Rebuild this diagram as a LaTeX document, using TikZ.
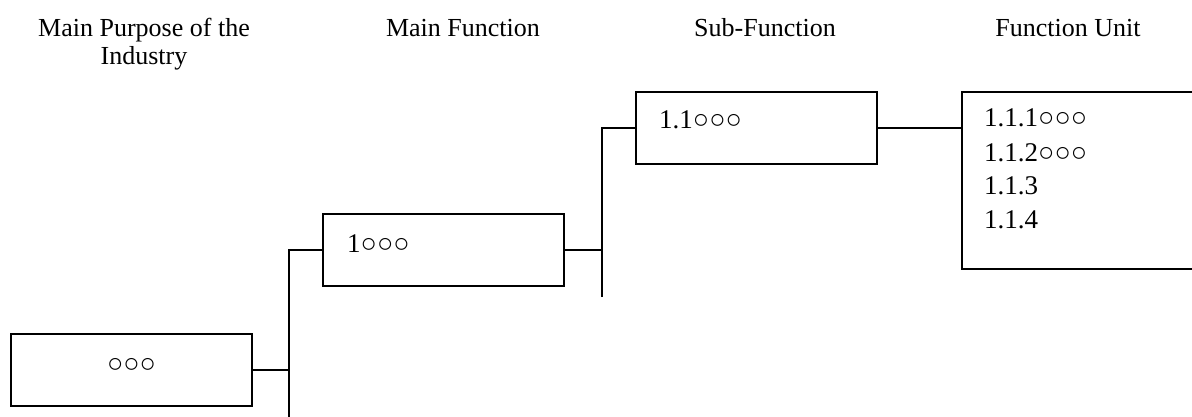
\documentclass[tikz,border=0pt]{standalone}
\usepackage{fontspec}
\setmainfont{Liberation Serif}
\begin{document}
\begin{tikzpicture}[x=1pt,y=-1pt,
  box/.style={draw=black,line width=2pt,minimum width=241pt,minimum height=72pt,inner sep=0pt,outer sep=0pt,anchor=north west},
  head/.style={font=\fontsize{26}{28}\selectfont,align=center,inner sep=0pt,anchor=base},
  txt/.style={font=\fontsize{27}{33.5}\selectfont,inner sep=0pt,anchor=base west},
  conn/.style={line width=2pt}]
\useasboundingbox (0,0) rectangle (1192,417);
\clip (0,0) rectangle (1192,417);
% headers
\node[head] (h1) at (144,65) {Main Purpose of the\\Industry};
\node[head] (h2) at (463,37) {Main Function};
\node[head] (h3) at (765,37) {Sub-Function};
\node[head] (h4) at (1068,37) {Function Unit};
% boxes
\node[box] (A) at (11,334) {};
\node[box] (B) at (323,214) {};
\node[box] (C) at (636,92) {};
\node[box,minimum height=177pt] (D) at (962,92) {};
% texts
\node[txt,anchor=base] (ta) at (A.center |- 0,372) {○○○};
\node[txt] (tb) at (347,252) {1○○○};
\node[txt] (tc) at (659,129) {1.1○○○};
\node[txt] (d1) at (984,127) {1.1.1○○○};
\node[txt] (d2) at (984,161) {1.1.2○○○};
\node[txt] (d3) at (984,194.5) {1.1.3};
\node[txt] (d4) at (984,228) {1.1.4};
% connectors
\coordinate (v1t) at (289,250);
\coordinate (v1b) at (289,417);
\coordinate (v2t) at (602,128);
\coordinate (v2b) at (602,297);
\draw[conn] (A.east) -- (A.east -| v1t);
\draw[conn] (v1b) -- (v1t |- B.west) -- (B.west);
\draw[conn] (B.east) -- (B.east -| v2t);
\draw[conn] (v2b) -- (v2t |- C.west) -- (C.west);
\draw[conn] (C.east) -- (C.east -| D.west);
\end{tikzpicture}
\end{document}
